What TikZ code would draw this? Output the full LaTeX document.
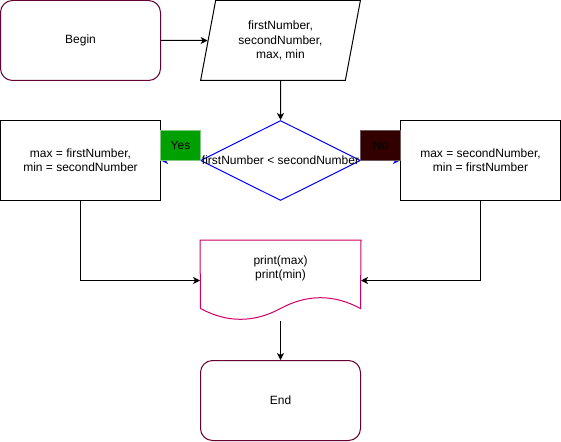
\documentclass[tikz,border=0pt]{standalone}
\usepackage{fontspec}
\setmainfont{Liberation Sans}
\usetikzlibrary{arrows.meta,shapes.geometric}
\definecolor{termc}{HTML}{660033}
\definecolor{docc}{HTML}{CC0066}
\definecolor{yesc}{HTML}{00A000}
\definecolor{yesb}{HTML}{82C882}
\definecolor{noc}{HTML}{330000}
\definecolor{nob}{HTML}{6E5A5A}
\definecolor{decc}{HTML}{0000FF}
\begin{document}
\begin{tikzpicture}[x=1pt,y=-1pt,
  font=\fontsize{12}{14.4}\selectfont,
  line width=1pt,
  >={Stealth[length=7pt,width=7pt,inset=2pt]},
  term/.style={draw=termc, rounded corners=12pt, minimum width=160pt, minimum height=80pt, inner sep=0pt, align=center},
  procbox/.style={draw=black, minimum width=160pt, minimum height=80pt, inner sep=0pt, align=center},
  iobox/.style={draw=black, trapezium, trapezium left angle=75.96, trapezium right angle=104.04, trapezium stretches=true, minimum width=160pt, minimum height=80pt, inner sep=0pt, align=center},
  decbox/.style={draw=decc, diamond, minimum width=160pt, minimum height=80pt, inner sep=0pt},
  frame/.style={draw=none, minimum width=160pt, minimum height=80pt, inner sep=0pt},
  plain/.style={inner sep=0pt, align=center},
  yeslab/.style={draw=yesb, fill=yesc, minimum width=40pt, minimum height=30pt, inner sep=0pt},
  nolab/.style={draw=nob, fill=noc, minimum width=40pt, minimum height=30pt, inner sep=0pt},
  flow/.style={->, draw=black},
  decflow/.style={->, draw=decc}
]
\useasboundingbox (0,0) rectangle (561,441);
\begin{scope}[shift={(0.5,0.5)}]
  \node[term] (begin) at (80,40) {Begin};
  \node[iobox] (input) at (280,40) {firstNumber,\\secondNumber,\\max, min};
  \node[decbox] (dec) at (280,160) {};
  \node[procbox] (lbox) at (80,160) {max = firstNumber,\\min = secondNumber};
  \node[procbox] (rbox) at (480,160) {max = secondNumber,\\min = firstNumber};
  \node[frame] (doc) at (280,280) {};
  \draw[docc] (doc.north west) -- (doc.north east) -- (360,308)
     .. controls (333.33,293.6) and (306.67,293.6) .. (280,308)
     .. controls (253.33,322.4) and (226.67,322.4) .. (200,308) -- cycle;
  \node[plain] (doctext) at (280,268) {print(max)\\print(min)};
  \node[term] (end) at (280,400) {End};

  \draw[flow] (begin.east) -- (input);
  \draw[flow] (input) -- (dec);
  \draw[decflow] (dec.west) -- (lbox.east);
  \draw[decflow] (dec.east) -- (rbox.west);
  \draw[flow] (lbox.south) |- (doc.west);
  \draw[flow] (rbox.south) |- (doc.east);
  \draw[flow] (doc.south) -- (end.north);

  \node[yeslab] (yes) at (180,145) {Yes};
  \node[nolab] (no) at (380,145) {No};
  \node[plain] (dectext) at (dec.center) {firstNumber < secondNumber};
\end{scope}
\end{tikzpicture}
\end{document}
